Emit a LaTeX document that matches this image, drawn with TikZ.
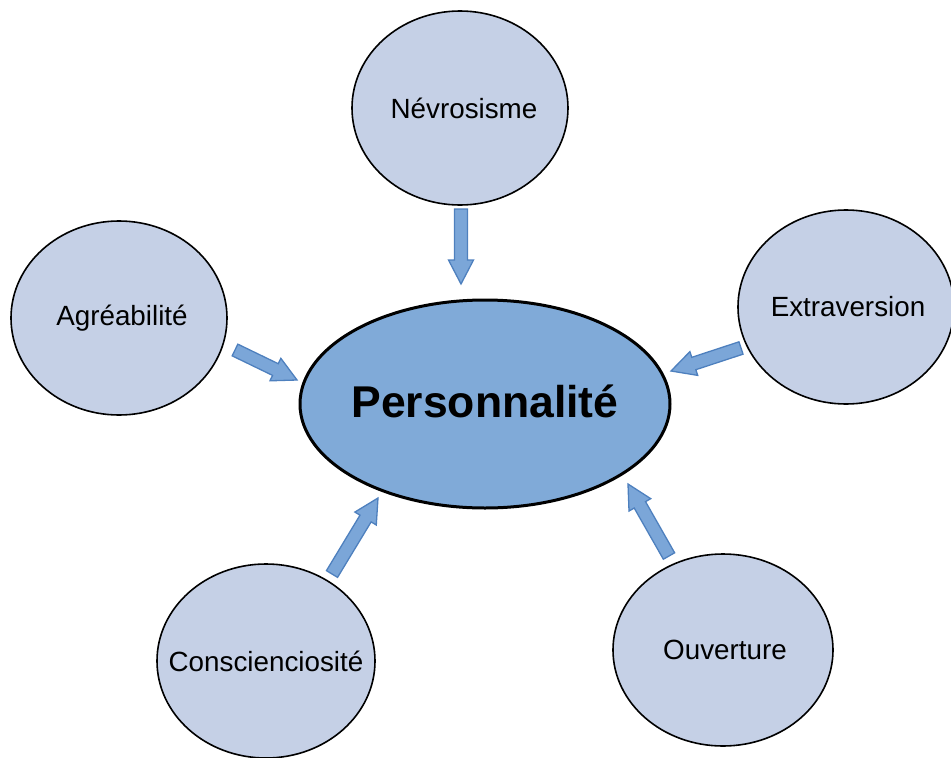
\documentclass[tikz,border=0pt]{standalone}
\usepackage{fontspec}
\setmainfont{Liberation Sans}
\usetikzlibrary{shapes.geometric,calc}
\definecolor{smallfill}{HTML}{C5D0E6}
\definecolor{bigfill}{HTML}{80AAD8}
\definecolor{arrfill}{HTML}{7BA6D8}
\definecolor{arrdraw}{HTML}{4E80BE}
\tikzset{
  trait/.style={ellipse, draw=black, line width=1.6pt, fill=smallfill, inner sep=0pt,
    minimum width=216pt, minimum height=194pt, font=\fontsize{27.8}{32}\selectfont},
  centre/.style={ellipse, draw=black, line width=3pt, fill=bigfill, inner sep=0pt,
    minimum width=370pt, minimum height=208pt, font=\fontsize{44.5}{50}\selectfont\bfseries},
  blockarrow/.style={fill=arrfill, draw=arrdraw, line width=1.3pt, line join=miter}
}
\newcommand{\blockarr}[2]{%
  \coordinate (ba1) at ($(#1)!6.5pt!90:(#2)$);
  \coordinate (ba2) at ($(#1)!6.5pt!-90:(#2)$);
  \coordinate (bm) at ($(#2)!24pt!(#1)$);
  \coordinate (ba3) at ($(bm)!6.5pt!-90:(#2)$);
  \coordinate (ba4) at ($(bm)!12.5pt!-90:(#2)$);
  \coordinate (ba5) at ($(bm)!12.5pt!90:(#2)$);
  \coordinate (ba6) at ($(bm)!6.5pt!90:(#2)$);
  \draw[blockarrow] (ba1) -- (ba6) -- (ba5) -- (#2) -- (ba4) -- (ba3) -- (ba2) -- cycle;
}
\newcommand{\lbl}[2]{\makebox[0pt]{\hspace{#1}#2}}
\begin{document}
\begin{tikzpicture}[x=1pt,y=-1pt]
\useasboundingbox (0,0) rectangle (951,758);
\node[centre] (pers) at (485,404) {\makebox[0pt]{\raisebox{6pt}{Personnalité}}};
\node[trait] (nev) at (460,108) {\lbl{8pt}{Névrosisme}};
\node[trait] (agr) at (119,318) {\lbl{6pt}{Agréabilité}};
\node[trait] (ext) at (846,307) {\lbl{4pt}{Extraversion}};
\node[trait, minimum width=218pt] (con) at (266,661) {\lbl{0pt}{Conscienciosité}};
\node[trait, minimum width=220pt, minimum height=192pt] (ouv) at (723,650) {\lbl{4pt}{Ouverture}};
% arrow end points
\coordinate (nevS) at (461,209);
\coordinate (nevT) at (461,284);
\coordinate (agrS) at (235,350);
\coordinate (agrT) at (297,380);
\coordinate (extS) at (741,348);
\coordinate (extT) at (671,371);
\coordinate (conS) at (332,574);
\coordinate (conT) at (378,498);
\coordinate (ouvS) at (669,556);
\coordinate (ouvT) at (628,484);
\blockarr{nevS}{nevT}
\blockarr{agrS}{agrT}
\blockarr{extS}{extT}
\blockarr{conS}{conT}
\blockarr{ouvS}{ouvT}
\end{tikzpicture}
\end{document}
